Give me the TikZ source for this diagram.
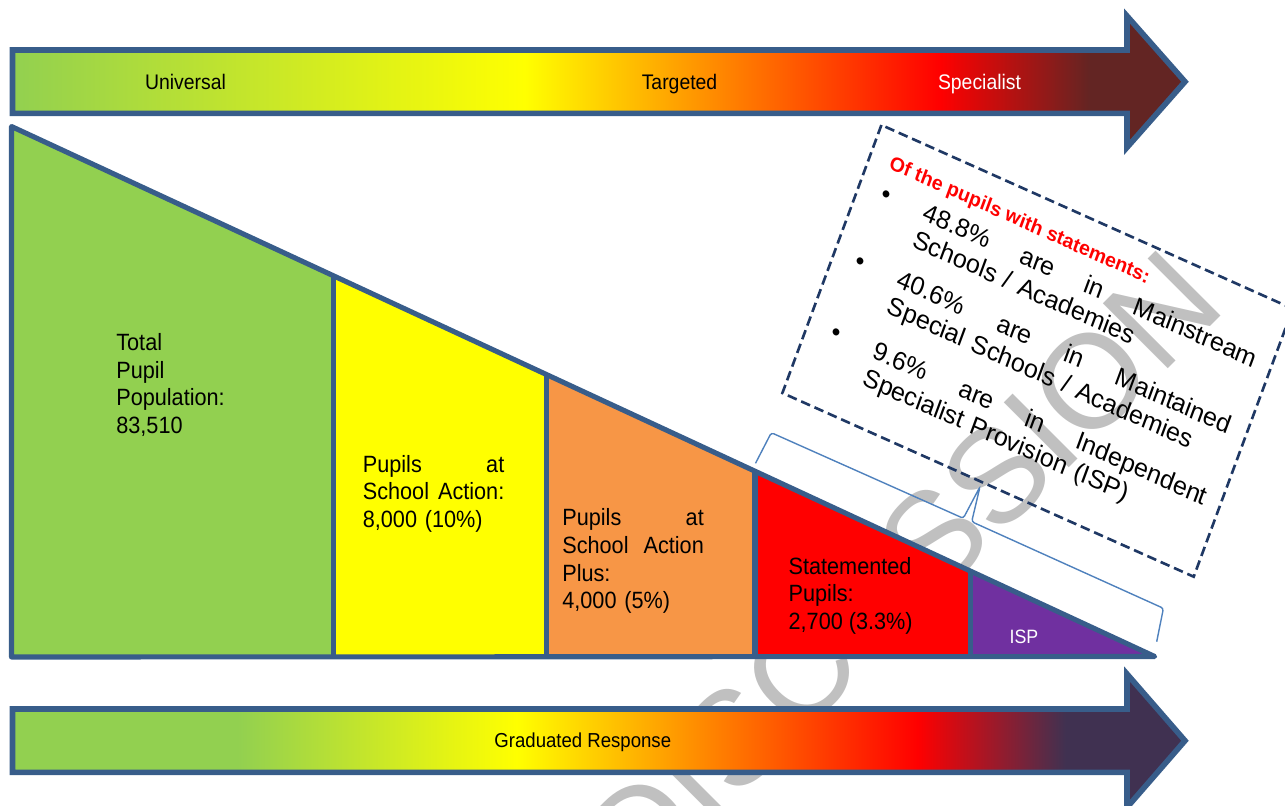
\documentclass[tikz,border=0pt]{standalone}
\usepackage{fontspec}
\setmainfont{Liberation Sans}[FakeStretch=0.92]
\newfontfamily\notefont{Liberation Sans}

\definecolor{edge}{RGB}{56,93,138}
\definecolor{grassgreen}{RGB}{146,208,80}
\definecolor{lemon}{RGB}{255,255,0}
\definecolor{amber}{RGB}{247,150,70}
\definecolor{scarlet}{RGB}{255,0,0}
\definecolor{ispviolet}{RGB}{112,48,160}
\definecolor{maroonend}{RGB}{99,37,35}
\definecolor{plumend}{RGB}{64,49,81}
\definecolor{dashnavy}{RGB}{31,56,100}
\definecolor{bracketblue}{RGB}{79,129,189}
\definecolor{wmgrey}{RGB}{192,192,192}

\pgfdeclarehorizontalshading{topband}{100bp}{color(0bp)=(grassgreen); color(25bp)=(grassgreen);
  color(46.85bp)=(lemon); color(64.55bp)=(scarlet); color(70.95bp)=(maroonend); color(100bp)=(maroonend)}
\pgfdeclarehorizontalshading{bottomband}{100bp}{color(0bp)=(grassgreen); color(34.6bp)=(grassgreen);
  color(46.5bp)=(lemon); color(63.6bp)=(scarlet); color(69.9bp)=(plumend); color(100bp)=(plumend)}

\begin{document}
\begin{tikzpicture}[x=0.02cm, y=-0.02cm,
  band/.style = {draw=edge, line width=3.2pt, line join=miter},
  slab/.style = {draw=edge, line width=2.9pt, line join=round},
  txt/.style = {inner sep=0pt, anchor=north west, align=left, font=\fontsize{13.4}{15.75}\selectfont},
  bandtxt/.style = {inner sep=0pt, anchor=base, font=\fontsize{12}{14}\selectfont},
  bracket/.style = {draw=bracketblue, line width=0.8pt, rounded corners=1.5pt},
  notebox/.style = {draw=dashnavy, line width=1.5pt, dash pattern=on 5.5pt off 2.8pt},
  notetitle/.style = {inner sep=0pt, anchor=north west, text=scarlet, font=\notefont\bfseries\fontsize{11.3}{13}\selectfont},
  noteitem/.style = {inner sep=0pt, anchor=north west, text width=207pt, align=left, font=\notefont\fontsize{14.5}{16.3}\selectfont},
  wmark/.style = {inner sep=0pt, rotate=45, text=wmgrey, font=\notefont\fontsize{76}{80}\selectfont}]
  \useasboundingbox (0,0) rectangle (1285,805);

  \node[wmark] (wm) at (902,570) {DISCUSSION};

  \draw[band, shading=topband] (12.5,50) -- (1127,50) -- (1127,16) -- (1185,81.7) -- (1127,147.4) -- (1127,113.4) -- (12.5,113.4) -- cycle;
  \draw[band, shading=bottomband] (12.5,709) -- (1127,709) -- (1127,674) -- (1185,740.7) -- (1127,807.4) -- (1127,772.4) -- (12.5,772.4) -- cycle;

  \node[bandtxt] (universal) at (185.5,89.3) {Universal};
  \node[bandtxt] (targeted) at (679.5,89.3) {Targeted};
  \node[bandtxt, text=white] (specialist) at (979.5,89.3) {Specialist};
  \node[bandtxt, font=\fontsize{11.5}{14}\selectfont] (graduated) at (582.8,747.3) {Graduated Response};

  \fill[grassgreen] (11.5,126.5) -- (333.6,275.7) -- (333.6,657) -- (11.5,657) -- cycle;
  \fill[lemon] (333.6,275.7) -- (546.4,374.3) -- (546.4,657) -- (333.6,657) -- cycle;
  \fill[amber] (546.4,374.3) -- (755,470.9) -- (755,657) -- (546.4,657) -- cycle;
  \fill[scarlet] (755,470.9) -- (970.5,570.7) -- (970.5,657) -- (755,657) -- cycle;
  \fill[ispviolet] (970.5,570.7) -- (1154.7,656.5) -- (970.5,657) -- cycle;
  \draw[slab] (11.5,126.5) -- (1154.7,656.5) -- (11.5,657) -- cycle;
  \draw[slab] (333.6,275.7) -- (333.6,657) (546.4,374.3) -- (546.4,657)
    (755,470.9) -- (755,657) (970.5,570.7) -- (970.5,657);

  \node[txt] (total) at (116,333) {Total\\Pupil\\Population:\\83,510};
  \node[txt, text width=2.83cm] (action) at (362.5,454.6) {Pupils\hfill at\\School\hfill Action:\\8,000 (10\%)};
  \node[txt, text width=2.83cm] (actionplus) at (562,508.3) {Pupils\hfill at\\School\hfill Action\\Plus:\\4,000 (5\%)};
  \node[txt] (statemented) at (788.3,556.7) {Statemented\\Pupils:\\2,700 (3.3\%)};
  \node[txt, text=white, font=\fontsize{11}{13}\selectfont] (isp) at (1009.3,630) {ISP};

  \draw[bracket] (755.5,463.3) -- (771.3,432.7) -- (963.3,518.3) -- (980,486.7) -- (971.7,521.7)
    -- (1163.4,608.3) -- (1156.7,641.7);

  \begin{scope}[shift={(881.4,125)}, cm={0.913,-0.4078,0.3465,0.938,(0,0)}, transform shape]
    \draw[notebox] (0,0) rectangle (450.5,285.7);
    \node[notetitle] (notehead) at (21,22) {Of the pupils with statements:};
    \node[noteitem] (mainstream) at (70,51.3) {\leavevmode\llap{\textbullet\hspace{21pt}}48.8\%\hfill are\hfill in\hfill Mainstream\\Schools / Academies};
    \node[noteitem] (maintained) at (69,122.8) {\leavevmode\llap{\textbullet\hspace{21pt}}40.6\%\hfill are\hfill in\hfill Maintained\\Special Schools / Academies};
    \node[noteitem] (independent) at (71,198) {\leavevmode\llap{\textbullet\hspace{21pt}}9.6\%\hfill are\hfill in\hfill Independent\\Specialist Provision (ISP)};
  \end{scope}
\end{tikzpicture}
\end{document}
